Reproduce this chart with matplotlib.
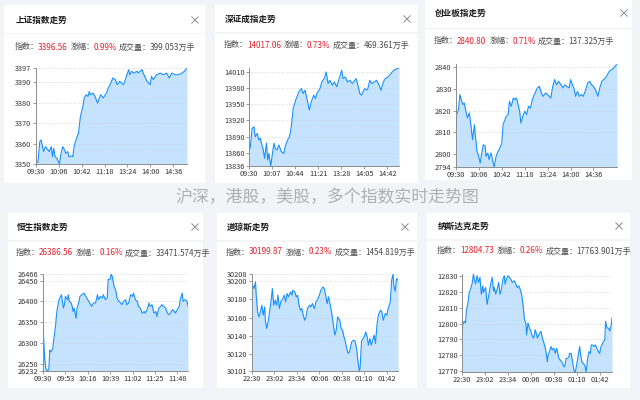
"""
Six index trend cards (A-share, HK, US) on one dashboard image -> out.png
"""
import matplotlib
matplotlib.use("Agg")
import matplotlib.pyplot as plt
from matplotlib.patches import Rectangle
from matplotlib.lines import Line2D

plt.rcParams['font.family'] = ['Noto Sans CJK SC', 'DejaVu Sans']

# -----------------------------
# Data (minute index since open, index value)
# -----------------------------
sh_t = [0, 3, 6, 8, 12, 15, 17, 21, 24, 26, 28, 30, 33, 37, 39, 42, 45, 47, 50, 52,
        57, 58, 60, 63, 67, 70, 74, 76, 79, 82, 84, 86, 90, 93, 97, 100, 102, 106, 111, 114,
        118, 121, 125, 128, 132, 135, 138, 140, 146, 148, 151, 154, 159, 161, 167, 169, 175, 180, 182, 185,
        190, 196, 201, 206, 210, 214, 219, 224, 230, 234, 238]
sh_v = [3351.1, 3350.7, 3361.0, 3361.8, 3356.1, 3358.5, 3357.7, 3356.1, 3358.5, 3353.6,
        3357.7, 3353.6, 3352.8, 3350.0, 3354.4, 3358.5, 3356.9, 3355.2, 3356.1, 3353.6,
        3353.9, 3353.6, 3358.5, 3361.8, 3365.1, 3373.3, 3378.2, 3382.3, 3383.9, 3383.1,
        3385.5, 3383.9, 3384.7, 3383.1, 3379.8, 3382.3, 3383.9, 3382.3, 3384.7, 3387.2,
        3389.6, 3392.1, 3391.3, 3388.8, 3390.5, 3389.6, 3388.8, 3390.5, 3396.2, 3393.7,
        3395.4, 3394.5, 3395.4, 3394.5, 3396.2, 3394.5, 3390.5, 3388.8, 3392.9, 3391.3,
        3393.7, 3394.5, 3393.7, 3394.5, 3392.1, 3394.5, 3393.7, 3393.7, 3394.5, 3395.4, 3397.0]
sh_yticks = [3350, 3360, 3370, 3380, 3390, 3397]
sh_xlabels = ['09:30', '10:06', '10:42', '11:18', '13:24', '14:00', '14:36']

sz_t = [0, 2, 5, 8, 10, 13, 16, 18, 20, 23, 25, 28, 30, 32, 35, 37, 40, 42, 45, 48,
        52, 56, 58, 62, 65, 68, 71, 75, 77, 80, 84, 87, 90, 93, 97, 100, 104, 107, 109, 114,
        117, 121, 124, 127, 130, 134, 137, 141, 144, 149, 151, 155, 158, 162, 166, 168, 172, 175, 178, 181,
        183, 186, 189, 191, 194, 197, 201, 205, 209, 212, 216, 219, 222, 226, 230, 234, 238, 241]
sz_v = [13877.8, 13868.6, 13905.3, 13908.4, 13890, 13896, 13884, 13887, 13878, 13865.5,
        13850, 13878, 13847, 13859, 13836, 13853, 13878, 13868.6, 13865.5, 13874.7,
        13862.4, 13859.4, 13871.6, 13884, 13890, 13908.4, 13942, 13957.4, 13963.5, 13972.7,
        13978.8, 13969.6, 13975.7, 13960.4, 13939, 13954.3, 13966.6, 13960.4, 13969.6, 13978.8,
        13991, 13997.2, 14009.4, 13988, 13994, 13985, 13991, 13982, 13994, 14012.5,
        13997.2, 14000, 13991, 13994, 13988, 13991, 13997.2, 13985, 13969.6, 13966.6,
        13972.7, 13978.8, 13975.7, 13978.8, 13994, 13988, 13991, 13994, 13985, 13975.7,
        13991, 13997.2, 13999, 14003.3, 14009.4, 14013.7, 14015.5, 14016.7]
sz_yticks = [13836, 13860, 13890, 13920, 13950, 13980, 14010]
sz_xlabels = ['09:30', '10:07', '10:44', '11:21', '13:28', '14:05', '14:42']

cy_t = [0, 1, 4, 6, 9, 11, 13, 15, 18, 21, 23, 26, 29, 30, 33, 35, 38, 40, 43, 46,
        47, 50, 52, 55, 58, 60, 63, 65, 69, 72, 74, 76, 79, 82, 84, 87, 90, 92, 95, 97,
        100, 102, 105, 108, 111, 114, 117, 120, 123, 128, 131, 134, 137, 141, 144, 149, 152, 155, 158, 161,
        165, 168, 171, 174, 178, 180, 183, 186, 188, 191, 194, 197, 200, 204, 207, 210, 213, 216, 219, 223,
        226, 229, 232, 235, 238, 241, 245, 248, 250, 253]
cy_v = [2811.2, 2818.2, 2820.5, 2827.4, 2824.3, 2822.8, 2823.5, 2820.5, 2816.6, 2818.9,
        2814.3, 2806.6, 2813.5, 2809.7, 2801.2, 2799.7, 2795.8, 2799.7, 2804.3, 2803.5,
        2798.9, 2800.5, 2797.4, 2800.5, 2796.6, 2794.0, 2798.9, 2800.5, 2802.8, 2805.1,
        2813.5, 2815.1, 2817.4, 2818.2, 2824.3, 2822, 2825.8, 2825.1, 2825.8, 2823.5,
        2819.7, 2814.3, 2817.4, 2819.7, 2818.2, 2822, 2821.2, 2825.1, 2827.4, 2830.5,
        2831.2, 2828.2, 2826.6, 2828.2, 2827.4, 2825.8, 2831.2, 2834.3, 2831.9, 2833.5,
        2831.9, 2830.5, 2831.9, 2831.2, 2830.5, 2834.3, 2831.9, 2829.7, 2826.6, 2828.9,
        2826.6, 2827.4, 2826.6, 2829.7, 2832.8, 2833.5, 2831.9, 2831.2, 2829.7, 2826.6,
        2830.5, 2833.5, 2834.3, 2835.1, 2836.6, 2838.2, 2838.9, 2839.7, 2840.5, 2841.5]
cy_yticks = [2794, 2800, 2810, 2820, 2830, 2840]
cy_xlabels = ['09:30', '10:06', '10:42', '11:18', '13:24', '14:00', '14:36']

hs_t = [0, 1, 2, 3, 5, 6, 7, 8, 10, 11, 13, 14, 16, 18, 19, 21, 22, 23, 25, 26,
        27, 29, 30, 31, 32, 34, 35, 37, 38, 40, 42, 44, 45, 47, 49, 50, 52, 54, 56, 57,
        59, 61, 62, 64, 66, 67, 69, 70, 71, 73, 75, 76, 78, 80, 81, 83, 85, 86, 88, 90,
        92, 93, 95, 97, 98, 100, 102, 104, 105, 107, 109, 110, 112, 114, 116, 117, 119, 121, 122, 124,
        126, 128, 129, 131, 133, 135, 136, 138, 140, 141, 143, 144, 146, 148, 149]
hs_v = [26347, 26294, 26254, 26237.4, 26232, 26237.4, 26282, 26278, 26286, 26306.5,
        26343, 26371.5, 26400, 26412, 26416, 26383.7, 26392, 26412, 26404, 26416,
        26400, 26396, 26388, 26375.6, 26383.7, 26359, 26383.7, 26400, 26412, 26416,
        26420, 26412, 26408, 26400, 26392, 26388, 26396, 26396, 26416, 26404,
        26412, 26408, 26416, 26404, 26408, 26453, 26453, 26466, 26461, 26436.6,
        26424.4, 26408, 26400, 26396, 26392, 26400, 26404, 26392, 26396, 26416,
        26412, 26420, 26404, 26400, 26388, 26383.7, 26371.5, 26375.6, 26371.5, 26380,
        26396, 26388, 26392, 26371.5, 26375.6, 26363.4, 26383.7, 26388, 26392, 26388,
        26383.7, 26371.5, 26367.5, 26371.5, 26380, 26375.6, 26371.5, 26380, 26388, 26404,
        26420, 26400, 26404, 26400, 26388]
hs_yticks = [26232, 26250, 26300, 26350, 26400, 26450, 26466]
hs_xlabels = ['09:30', '09:53', '10:16', '10:39', '11:02', '11:25', '11:48']

dj_t = [0, 1, 3, 5, 6, 8, 10, 12, 14, 16, 18, 19, 21, 23, 25, 27, 29, 31, 33, 35,
        37, 39, 41, 44, 46, 48, 50, 52, 55, 57, 58, 61, 63, 65, 67, 69, 71, 73, 75, 77,
        79, 82, 84, 86, 89, 91, 93, 96, 98, 101, 103, 105, 107, 109, 110, 112, 114, 116, 118, 120,
        122, 125, 127, 129, 131, 133, 135, 137, 139, 142, 145, 147, 149, 151, 153, 154, 156, 158, 160, 162,
        164, 166, 168, 170, 172, 174, 176, 178, 180, 183, 185, 187, 190, 192, 194, 197, 199, 201, 202, 204,
        206, 208]
dj_v = [30188.3, 30195.6, 30192, 30199.3, 30184.6, 30166.2, 30160.7, 30166.2, 30173.6, 30162.6,
        30171.7, 30157, 30147.9, 30155.2, 30166.2, 30177.2, 30192, 30173.6, 30179, 30173.6,
        30184.6, 30169.9, 30177.2, 30180.9, 30184.6, 30177.2, 30186.4, 30182.8, 30188.3, 30184.6,
        30190, 30188.3, 30182.8, 30184.6, 30173.6, 30168, 30169.9, 30162.6, 30157, 30160.7,
        30169.9, 30173.6, 30171.7, 30175.4, 30169.9, 30177.2, 30179, 30184.6, 30190, 30193.8,
        30192, 30184.6, 30175.4, 30182.8, 30179, 30171.7, 30162.6, 30151.6, 30140.6, 30146.1,
        30160.7, 30157, 30147.9, 30146.1, 30138.7, 30133.2, 30125.9, 30120.4, 30122.2, 30133.2,
        30135, 30133.2, 30125.9, 30111.2, 30101, 30103.9, 30133.2, 30136.9, 30138.7, 30144.2,
        30138.7, 30129.5, 30136.9, 30129.5, 30135, 30140.6, 30131.4, 30151.6, 30162.6, 30168,
        30166.2, 30157, 30164.4, 30162.6, 30169.9, 30177.2, 30201.1, 30208, 30195.6, 30189,
        30202.9, 30201.1]
dj_yticks = [30101, 30120, 30140, 30160, 30180, 30200, 30208]
dj_xlabels = ['22:30', '23:02', '23:34', '00:06', '00:38', '01:10', '01:42']

nq_t = [0, 1, 3, 5, 6, 8, 10, 12, 14, 16, 17, 19, 21, 23, 25, 27, 29, 30, 33, 35,
        38, 40, 42, 44, 45, 47, 49, 51, 53, 55, 57, 59, 60, 62, 64, 66, 68, 70, 73, 75,
        77, 79, 81, 83, 85, 87, 89, 90, 92, 94, 96, 98, 100, 102, 104, 105, 108, 110, 112, 115,
        117, 119, 120, 122, 124, 126, 128, 130, 132, 134, 135, 137, 139, 141, 143, 145, 147, 149, 150, 152,
        154, 156, 158, 160, 162, 164, 165, 167, 169, 171, 173, 175, 177, 179, 180, 182, 184, 186, 188, 190,
        192, 193, 195, 197, 199, 200, 202, 204, 206, 208, 209]
nq_v = [12791.9, 12799.4, 12801.5, 12800.4, 12807.9, 12812.2, 12819.7, 12821.8, 12825, 12831.4,
        12828.2, 12825, 12830.3, 12826.1, 12829.3, 12818.6, 12823.9, 12819.7, 12822.9, 12812.2,
        12819.7, 12825, 12829.3, 12820.7, 12822.9, 12818.6, 12821.8, 12826.1, 12818.6, 12821.8,
        12828.2, 12830.3, 12825, 12828.2, 12830.3, 12829.3, 12828.2, 12826.1, 12827.1, 12825,
        12822.9, 12823.9, 12821.8, 12818.6, 12812.2, 12802.6, 12800.4, 12792.9, 12800.4, 12797.2,
        12795.1, 12791.9, 12790.8, 12796.2, 12792.9, 12790.8, 12794, 12795.1, 12790.8, 12786.5,
        12782.3, 12775.9, 12780.1, 12782.3, 12785.5, 12783.3, 12784.4, 12781.2, 12784.4, 12780.1,
        12778, 12776.9, 12775.9, 12773.7, 12772.6, 12778, 12778, 12779.1, 12781.2, 12781.2,
        12775.9, 12770.5, 12769.4, 12774.8, 12780.1, 12785.5, 12781.2, 12775.9, 12774.8, 12773.7,
        12769.4, 12778, 12782.3, 12781.2, 12786.5, 12786.5, 12785.5, 12786.5, 12784.4, 12782.3,
        12781.2, 12784.4, 12786.5, 12788.7, 12789.7, 12801.5, 12797.2, 12797.2, 12795.3, 12799.4,
        12803.6]
nq_yticks = [12770, 12780, 12790, 12800, 12810, 12820, 12830]
nq_xlabels = ['22:30', '23:02', '23:34', '00:06', '00:38', '01:10', '01:42']

titles = ['上证指数走势', '深证成指走势', '创业板指走势', '恒生指数走势', '道琼斯走势', '纳斯达克走势']
prices = ['3396.56', '14017.06', '2840.80', '26386.56', '30199.87', '12804.73']
changes = ['0.99%', '0.73%', '0.71%', '0.16%', '0.23%', '0.26%']
volumes = ['399.053', '469.361', '137.325', '33471.574', '1454.819', '17763.901']
tick_steps = [36, 37, 36, 23, 32, 32]

# -----------------------------
# Layout (figure pixels, y from top)
# -----------------------------
W, H = 640, 400
BG = '#f3f4f7'
BLUE = '#1890ff'
RED = '#e8202a'
GREY = '#4a4a4a'

# card: x0, x1, header top, header bottom, body bottom
cards = [(4, 205, 5, 33, 183), (215, 418, 5, 32, 183), (425, 632, 0, 28, 180),
         (8, 203, 213, 240, 388), (217, 417, 213, 240, 388), (427, 630, 213, 239, 388)]
# title x, title y, info y, close x
heads = [(16, 20, 47, 195), (225, 19, 45, 407), (435, 13, 41, 624),
         (17, 227, 253, 195), (227, 227, 252, 405), (438, 226, 251, 619)]
# plot area: left, top, right, bottom
boxes = [(36, 68, 187, 164), (249, 68, 399, 166), (456, 64, 617, 167),
         (43, 274, 188, 371), (252, 274, 398, 371), (462, 274, 612, 372)]

fig = plt.figure(figsize=(6.4, 4.0), dpi=100)
fig.patch.set_facecolor(BG)
renderer = fig.canvas.get_renderer()


def px(x, y):
    return x / W, 1 - y / H


def card(x0, x1, t0, t1, b):
    for top, bot in ((t0, t1), (t1 + 1.5, b)):
        fig.patches.append(Rectangle(px(x0, bot), (x1 - x0) / W, (bot - top) / H, zorder=-5,
                                     transform=fig.transFigure, facecolor='white', edgecolor='none'))


def close_icon(cx, cy, r=3.2):
    for dx in (-r, r):
        fig.lines.append(Line2D([(cx - dx) / W, (cx + dx) / W], [1 - (cy - r) / H, 1 - (cy + r) / H],
                                transform=fig.transFigure, color='#8c8c8c', lw=0.7))


def info_line(x, y, parts):
    for s, c, gap in parts:
        t = fig.text(*px(x, y), s, color=c, fontsize=5.8, va='center', ha='left')
        x += t.get_window_extent(renderer=renderer).width + gap


def chart(box, t, v, yticks, xlabels, step):
    l, tp, r, b = box
    ax = fig.add_axes([l / W, 1 - b / H, (r - l) / W, (b - tp) / H], zorder=3)
    ax.set_facecolor('none')
    lo, hi = min(v), max(v)
    ax.fill_between(t, v, lo, color=BLUE, alpha=0.25, lw=0)
    ax.plot(t, v, color=BLUE, lw=0.8)
    ax.set_xlim(0, t[-1])
    ax.set_ylim(lo, hi)
    ax.set_yticks(yticks)
    ax.set_yticklabels([str(y) for y in yticks])
    ax.set_xticks([i * step for i in range(len(xlabels))])
    ax.set_xticklabels(xlabels)
    ax.grid(axis='y', ls=(0, (1, 2)), color='#cfcfcf', lw=0.6)
    for s in ['top', 'right']:
        ax.spines[s].set_visible(False)
    for s in ['left', 'bottom']:
        ax.spines[s].set_color('#8c8c8c')
        ax.spines[s].set_linewidth(0.7)
    ax.tick_params(labelsize=5.3, length=2, width=0.6, color='#8c8c8c',
                   labelcolor='#333333', pad=1.2)
    return ax


series = [(sh_t, sh_v, sh_yticks, sh_xlabels), (sz_t, sz_v, sz_yticks, sz_xlabels),
          (cy_t, cy_v, cy_yticks, cy_xlabels), (hs_t, hs_v, hs_yticks, hs_xlabels),
          (dj_t, dj_v, dj_yticks, dj_xlabels), (nq_t, nq_v, nq_yticks, nq_xlabels)]

for i in range(6):
    card(*cards[i])
    tx, ty, iy, cx = heads[i]
    fig.text(*px(tx, ty), titles[i], fontsize=6.2, fontweight='bold', color='#1a1a1a',
             va='center', ha='left')
    close_icon(cx, ty)
    info_line(tx - 1, iy, [('指数：', GREY, -1), (prices[i], RED, 3), ('涨幅：', GREY, -1),
                           (changes[i], RED, 2), ('成交量：', GREY, -1), (volumes[i] + '万手', GREY, 0)])
    t, v, yt, xl = series[i]
    chart(boxes[i], t, v, yt, xl, tick_steps[i])

fig.text(*px(327, 197), '沪深，港股，美股，多个指数实时走势图', fontsize=12.2, color='#b0b0b0',
         va='center', ha='center')

fig.savefig('out.png', dpi=100, facecolor=BG)
